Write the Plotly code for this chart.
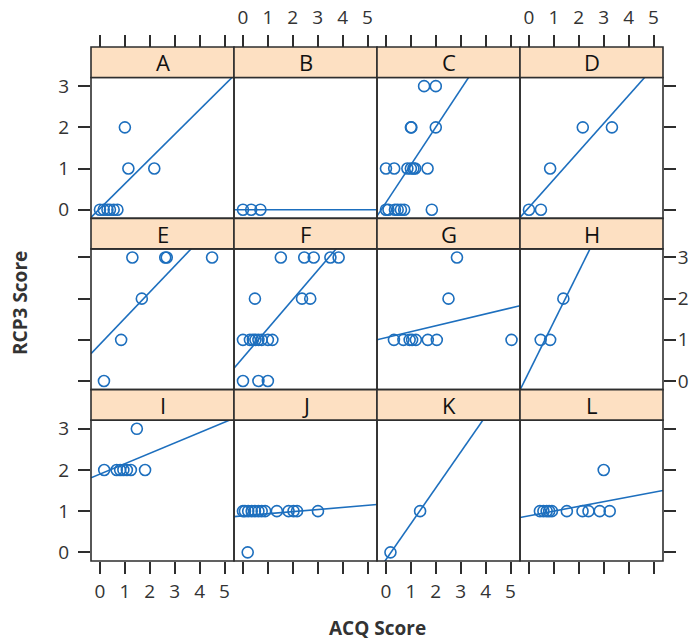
import plotly.graph_objects as go

# ---- data ----
panels = ["A", "B", "C", "D", "E", "F", "G", "H", "I", "J", "K", "L"]

A_x = [0.0, 0.15, 0.3, 0.4, 0.55, 0.7, 1.0, 1.14, 2.18]
A_y = [0, 0, 0, 0, 0, 0, 2, 1, 1]
B_x = [0.0, 0.33, 0.7]
B_y = [0, 0, 0]
C_x = [1.53, 2.0, 1.0, 1.02, 2.0, 0.0, 0.33, 0.86, 1.0, 1.1, 1.17, 1.67,
       0.0, 0.1, 0.36, 0.47, 0.6, 0.73, 1.84]
C_y = [3, 3, 2, 2, 2, 1, 1, 1, 1, 1, 1, 1, 0, 0, 0, 0, 0, 0, 0]
D_x = [0.0, 0.48, 0.85, 2.16, 3.33]
D_y = [0, 0, 1, 2, 2]
E_x = [0.16, 0.85, 1.68, 1.3, 2.62, 2.68, 4.5]
E_y = [0, 1, 2, 3, 3, 3, 3]
F_x = [1.52, 2.46, 2.84, 3.51, 3.84, 0.48, 2.37, 2.7,
       0.0, 0.28, 0.4, 0.5, 0.62, 0.75, 1.0, 1.18, 0.0, 0.62, 1.0]
F_y = [3, 3, 3, 3, 3, 2, 2, 2, 1, 1, 1, 1, 1, 1, 1, 1, 0, 0, 0]
G_x = [2.85, 2.51, 0.32, 0.7, 0.95, 1.05, 1.2, 1.68, 2.04, 5.04]
G_y = [3, 2, 1, 1, 1, 1, 1, 1, 1, 1]
H_x = [0.47, 0.85, 1.38]
H_y = [1, 1, 2]
I_x = [1.48, 0.17, 0.67, 0.81, 0.94, 1.08, 1.24, 1.81]
I_y = [3, 2, 2, 2, 2, 2, 2, 2]
J_x = [0.0, 0.08, 0.21, 0.35, 0.48, 0.62, 0.75, 0.89, 1.36, 1.83, 2.03, 2.17, 3.01, 0.19]
J_y = [1, 1, 1, 1, 1, 1, 1, 1, 1, 1, 1, 1, 1, 0]
K_x = [0.18, 1.37]
K_y = [0, 1]
L_x = [0.44, 0.58, 0.71, 0.81, 0.92, 1.52, 2.15, 2.39, 2.84, 3.24, 3.0]
L_y = [1, 1, 1, 1, 1, 1, 1, 1, 1, 1, 2]

xs = [A_x, B_x, C_x, D_x, E_x, F_x, G_x, H_x, I_x, J_x, K_x, L_x]
ys = [A_y, B_y, C_y, D_y, E_y, F_y, G_y, H_y, I_y, J_y, K_y, L_y]

# fitted line per panel (intercept, slope)
intercepts = [0.03, 0.0, 0.173, 0.054, 0.89, 0.566, 1.054, 0.22, 1.90, 0.886, -0.175, 0.888]
slopes = [0.60, 0.0, 0.916, 0.68, 0.634, 0.707, 0.144, 1.22, 0.252, 0.051, 0.87, 0.114]

x_ticks = [0, 1, 2, 3, 4, 5]
y_ticks = [0, 1, 2, 3]

# ---- style / layout ----
OFF = 8  # page body margin
W, H = 700 - OFF, 639 - OFF
XR = [-0.36, 5.38]
YR = [-0.21, 3.21]
BLUE = "#1d6fbe"
FRAME = "#2e2e2e"
STRIP = "#fde0c2"
FONT = "Open Sans"

left, colw = 91 - OFF, 143
top0, rowh, striph = 47 - OFF, 171.33, 30.5


def px(v):
    return v / W


def py(v):
    return 1 - v / H


fig = go.Figure()
shapes = []
annotations = []

for i, name in enumerate(panels):
    r, c = divmod(i, 4)
    k = i + 1
    xa = "x" if k == 1 else f"x{k}"
    ya = "y" if k == 1 else f"y{k}"
    xl = left + colw * c
    xr = xl + colw
    T = top0 + rowh * r
    S = T + striph
    B = T + rowh

    # line
    lx = list(XR)
    ly = [intercepts[i] + slopes[i] * v for v in lx]
    fig.add_trace(go.Scatter(x=lx, y=ly, mode="lines", xaxis=xa, yaxis=ya,
                             line=dict(color=BLUE, width=1.6),
                             showlegend=False, hoverinfo="skip"))
    # points
    fig.add_trace(go.Scatter(x=xs[i], y=ys[i], mode="markers", xaxis=xa, yaxis=ya,
                             marker=dict(symbol="circle-open", size=11, color=BLUE,
                                         line=dict(width=1.6, color=BLUE)),
                             showlegend=False))

    xkey = "xaxis" if k == 1 else f"xaxis{k}"
    ykey = "yaxis" if k == 1 else f"yaxis{k}"

    xaxis = dict(domain=[px(xl), px(xr)], range=XR, showgrid=False, zeroline=False,
                 showline=False, tickvals=x_ticks, ticklen=12, tickwidth=1.5,
                 tickcolor=FRAME, tickfont=dict(family=FONT, size=19, color="#333"),
                 ticklabelstandoff=1, fixedrange=True, automargin=False)
    if r == 0:
        xaxis.update(anchor="free", position=py(T), side="top", ticks="outside",
                     showticklabels=(c in (1, 3)), ticklabelstandoff=3)
    elif r == 2:
        xaxis.update(anchor=ya, side="bottom", ticks="outside",
                     showticklabels=(c in (0, 2)))
    else:
        xaxis.update(anchor=ya, ticks="", showticklabels=False)

    yaxis = dict(domain=[py(B), py(S)], range=YR, showgrid=False, zeroline=False,
                 showline=False, tickvals=y_ticks, ticklen=12, tickwidth=1.5,
                 tickcolor=FRAME, tickfont=dict(family=FONT, size=19, color="#333"),
                 ticklabelstandoff=5, anchor=xa, fixedrange=True, automargin=False)
    if c == 0:
        yaxis.update(side="left", ticks="outside", showticklabels=(r in (0, 2)))
    elif c == 3:
        yaxis.update(side="right", ticks="outside", showticklabels=(r == 1),
                     ticklabelstandoff=-2)
    else:
        yaxis.update(ticks="", showticklabels=False)

    fig.update_layout(**{xkey: xaxis, ykey: yaxis})

    # panel frame
    shapes.append(dict(type="rect", xref=f"{xa} domain", yref=f"{ya} domain",
                       x0=0, x1=1, y0=0, y1=1, line=dict(color=FRAME, width=1.6),
                       layer="above"))
    # strip
    shapes.append(dict(type="rect", xref="paper", yref="paper",
                       x0=px(xl), x1=px(xr), y0=py(S), y1=py(T),
                       fillcolor=STRIP, line=dict(color=FRAME, width=1.6), layer="above"))
    annotations.append(dict(text=name, xref="paper", yref="paper",
                            x=px((xl + xr) / 2), y=py((T + S) / 2),
                            showarrow=False, xanchor="center", yanchor="middle",
                            font=dict(family=FONT, size=22, color="#111")))

annotations.append(dict(text="<b>RCP3 Score</b>", xref="paper", yref="paper",
                        x=px(20 - OFF), y=py(303 - OFF), textangle=-90, showarrow=False,
                        xanchor="center", yanchor="middle",
                        font=dict(family=FONT, size=19, color="#333")))
annotations.append(dict(text="<b>ACQ Score</b>", xref="paper", yref="paper",
                        x=px(377 - OFF), y=py(628 - OFF), showarrow=False,
                        xanchor="center", yanchor="middle",
                        font=dict(family=FONT, size=19, color="#333")))

fig.update_layout(width=W, height=H, margin=dict(l=0, r=0, t=0, b=0),
                  paper_bgcolor="white", plot_bgcolor="white",
                  shapes=shapes, annotations=annotations, showlegend=False)

fig.write_html("out.html")
